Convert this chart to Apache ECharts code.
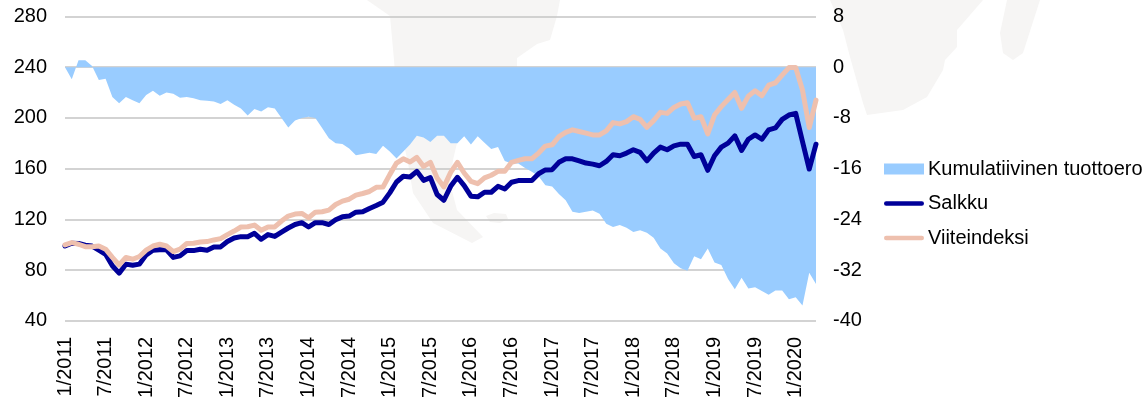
<!DOCTYPE html>
<html>
<head>
<meta charset="utf-8">
<script src="https://cdn.jsdelivr.net/npm/echarts@6/dist/echarts.min.js"></script>
<style>
html, body { margin: 0; padding: 0; background: #fff; }
#chart { width: 1147px; height: 401px; }
</style>
</head>
<body>
<div id="chart"></div>
<script>
var months = [
    "1/2011", "2/2011", "3/2011", "4/2011", "5/2011", "6/2011", "7/2011", "8/2011", "9/2011", "10/2011", "11/2011", "12/2011",
    "1/2012", "2/2012", "3/2012", "4/2012", "5/2012", "6/2012", "7/2012", "8/2012", "9/2012", "10/2012", "11/2012", "12/2012",
    "1/2013", "2/2013", "3/2013", "4/2013", "5/2013", "6/2013", "7/2013", "8/2013", "9/2013", "10/2013", "11/2013", "12/2013",
    "1/2014", "2/2014", "3/2014", "4/2014", "5/2014", "6/2014", "7/2014", "8/2014", "9/2014", "10/2014", "11/2014", "12/2014",
    "1/2015", "2/2015", "3/2015", "4/2015", "5/2015", "6/2015", "7/2015", "8/2015", "9/2015", "10/2015", "11/2015", "12/2015",
    "1/2016", "2/2016", "3/2016", "4/2016", "5/2016", "6/2016", "7/2016", "8/2016", "9/2016", "10/2016", "11/2016", "12/2016",
    "1/2017", "2/2017", "3/2017", "4/2017", "5/2017", "6/2017", "7/2017", "8/2017", "9/2017", "10/2017", "11/2017", "12/2017",
    "1/2018", "2/2018", "3/2018", "4/2018", "5/2018", "6/2018", "7/2018", "8/2018", "9/2018", "10/2018", "11/2018", "12/2018",
    "1/2019", "2/2019", "3/2019", "4/2019", "5/2019", "6/2019", "7/2019", "8/2019", "9/2019", "10/2019", "11/2019", "12/2019",
    "1/2020", "2/2020", "3/2020", "4/2020"
];

var tuottoero = [
    0, -1.9, 1.1, 1.1, 0.2, -2.0, -1.8, -4.7, -5.7, -4.7, -5.2, -5.7,
    -4.4, -3.7, -4.5, -4.0, -4.2, -4.8, -4.7, -4.9, -5.2, -5.3, -5.4, -5.8,
    -5.2, -5.9, -6.5, -7.6, -6.6, -7.0, -6.3, -6.5, -8.0, -9.5, -8.4, -8.0,
    -7.8, -8.0, -9.6, -11.2, -12.0, -12.1, -12.8, -13.9, -13.7, -13.5, -13.7, -12.4,
    -13.3, -14.4, -13.3, -12.2, -10.8, -11.1, -11.8, -10.8, -10.8, -12.0, -12.0, -10.9,
    -12.2, -10.9, -11.9, -12.9, -12.6, -14.8, -15.2, -15.2, -15.9, -16.5, -17.2, -18.6,
    -18.8, -20.0, -21.0, -22.8, -23.0, -22.8, -22.6, -23.1, -24.7, -25.2, -24.9, -25.3,
    -26.0, -25.7, -26.1, -26.9, -28.6, -29.4, -30.9, -31.7, -32.1, -29.8, -30.3, -28.6,
    -30.8, -31.2, -33.4, -35.0, -33.2, -34.9, -34.7, -35.3, -35.9, -35.2, -35.2, -36.6,
    -36.3, -37.6, -32.4, -34.2
];

var salkku = [
    99.0, 101.2, 101, 99.6, 99, 95.7, 92.5, 83.4, 77.6, 84.7, 83.9, 84.7,
    92, 95.7, 96, 96, 90, 91.2, 95.4, 95.4, 96.5, 95.7, 98.3, 98.3,
    102.5, 105.3, 106.4, 106.4, 109, 104.3, 108, 106.6, 110, 113.2, 116, 117.4,
    114, 117.4, 117.4, 116, 119.7, 122, 122.6, 125.7, 126, 128.6, 131, 133.6,
    140.9, 149.5, 154, 153.4, 157.9, 150.8, 152.9, 139.6, 135.1, 146.1, 153.2, 146.6,
    138.3, 137.8, 141.4, 141.4, 146.1, 144, 149.3, 150.6, 150.6, 150.6, 156, 159,
    159.2, 165, 167.8, 167.8, 166.2, 164.4, 163.6, 162.3, 165.7, 171, 170.2, 172.3,
    174.9, 172.8, 166.2, 172.3, 177, 174.9, 178, 179.3, 179.3, 169.6, 171, 158.7,
    170.2, 177, 180.1, 185.9, 174.4, 183.2, 186.6, 183.2, 190.6, 192.1, 198.9, 202.3,
    203.6, 181.4, 159.7, 179.3
];

var viiteindeksi = [
    99.9, 101.7, 100.4, 98.5, 98.5, 99, 96.5, 90, 84, 90, 88.6, 90.7,
    95.7, 99, 100.4, 99, 94.6, 96.5, 101, 101.2, 102.2, 102.5, 103.8, 104.8,
    108, 110.8, 114, 114.2, 115.5, 111.4, 114, 114, 118.7, 122.6, 124.2, 124.7,
    121.3, 125.7, 126, 127.3, 131.7, 134.4, 135.9, 139.1, 140.4, 142, 145.3, 145.6,
    155.3, 164.4, 167.8, 165.2, 168.9, 161.8, 165, 152.7, 145.6, 157.1, 165, 156.6,
    150, 148.2, 152.7, 154.8, 157.9, 157.9, 165, 166.5, 167.8, 167.8, 172.3, 177.8,
    178.8, 185.3, 188.7, 190.6, 189.3, 188, 186.6, 186.6, 189.8, 196.3, 195.3, 197.1,
    201, 198.9, 192.6, 197.9, 204.4, 203.6, 208.3, 211, 212, 199.7, 201, 187.4,
    202.3, 208.9, 214.6, 220.1, 207.6, 217.2, 221.4, 217.5, 225.8, 227.7, 233.7, 239.7,
    239.7, 222, 192.4, 214.1
];

var fontName = "Liberation Sans";
var textColor = "#000";
var mapColor = "#f6f5f4";
var lineIcon = "path://M2.2,0H37.8A2.2,2.2,0,0,1,37.8,4.4H2.2A2.2,2.2,0,0,1,2.2,0Z";

//taustakartta
var mapShapes = [
    [[367, 0], [390, 16], [394, 60], [397, 100], [403, 140], [408, 163], [413, 193], [433, 223], [472, 243], [483, 237], [457, 210], [450, 183], [453, 160], [457, 143], [490, 100], [517, 67], [517, 58], [537, 44], [550, 40], [557, 16], [560, 0]],
    [[830, 0], [843, 30], [850, 57], [863, 103], [867, 115], [903, 110], [927, 97], [943, 70], [945, 60], [957, 47], [957, 30], [983, 0]],
    [[1007, 0], [1000, 33], [1003, 53], [1013, 60], [1023, 53], [1040, 0]],
    [[486, 216], [494, 213], [506, 214], [508, 219], [500, 223], [490, 222]]
];

var mapGraphics = [];
for (var i = 0; i < mapShapes.length; i++) {
    mapGraphics.push({
        type: "polygon",
        z: -10,
        silent: true,
        shape: { points: mapShapes[i] },
        style: { fill: mapColor }
    });
}

var chart = echarts.init(document.getElementById("chart"), null, { renderer: "canvas" });

chart.setOption({
    animation: false,
    backgroundColor: "#fff",
    textStyle: { fontFamily: fontName },
    graphic: { elements: mapGraphics },
    grid: { left: 65, right: 331, top: 16.5, bottom: 78.5 },
    legend: {
        orient: "vertical",
        left: 879,
        top: 154,
        itemWidth: 40,
        itemHeight: 11,
        itemGap: 14.5,
        textStyle: { fontFamily: fontName, fontSize: 20, color: textColor, padding: [0, 0, 0, -1] },
        data: [
            { name: "Kumulatiivinen tuottoero", icon: "rect" },
            { name: "Salkku", icon: lineIcon },
            { name: "Viiteindeksi", icon: lineIcon }
        ]
    },
    xAxis: {
        type: "category",
        data: months,
        boundaryGap: false,
        axisLine: { show: false },
        axisTick: { show: false },
        axisLabel: {
            interval: 5,
            rotate: 90,
            margin: 16,
            fontFamily: fontName,
            fontSize: 20,
            color: textColor
        }
    },
    yAxis: [
        {
            type: "value",
            min: 40,
            max: 280,
            interval: 40,
            axisLine: { show: false },
            axisTick: { show: false },
            axisLabel: { margin: 18, padding: [2, 0, 0, 0], fontFamily: fontName, fontSize: 20, color: textColor },
            splitLine: { lineStyle: { color: "#c4c4c4", width: 1.5 } }
        },
        {
            type: "value",
            position: "right",
            min: -40,
            max: 8,
            interval: 8,
            axisLine: { show: false },
            axisTick: { show: false },
            axisLabel: { margin: 17, padding: [2, 0, 0, 0], fontFamily: fontName, fontSize: 20, color: textColor },
            splitLine: { show: false }
        }
    ],
    series: [
        {
            name: "Kumulatiivinen tuottoero",
            type: "line",
            yAxisIndex: 1,
            data: tuottoero,
            symbol: "none",
            lineStyle: { width: 0 },
            itemStyle: { color: "#99ccff" },
            areaStyle: { color: "#99ccff", opacity: 1, origin: 0 }
        },
        {
            name: "Salkku",
            type: "line",
            data: salkku,
            symbol: "none",
            itemStyle: { color: "#000099" },
            lineStyle: { color: "#000099", width: 5, join: "round", cap: "round" }
        },
        {
            name: "Viiteindeksi",
            type: "line",
            data: viiteindeksi,
            symbol: "none",
            itemStyle: { color: "#eec0ae" },
            lineStyle: { color: "#eec0ae", width: 5, join: "round", cap: "round" }
        }
    ]
});
</script>
</body>
</html>
